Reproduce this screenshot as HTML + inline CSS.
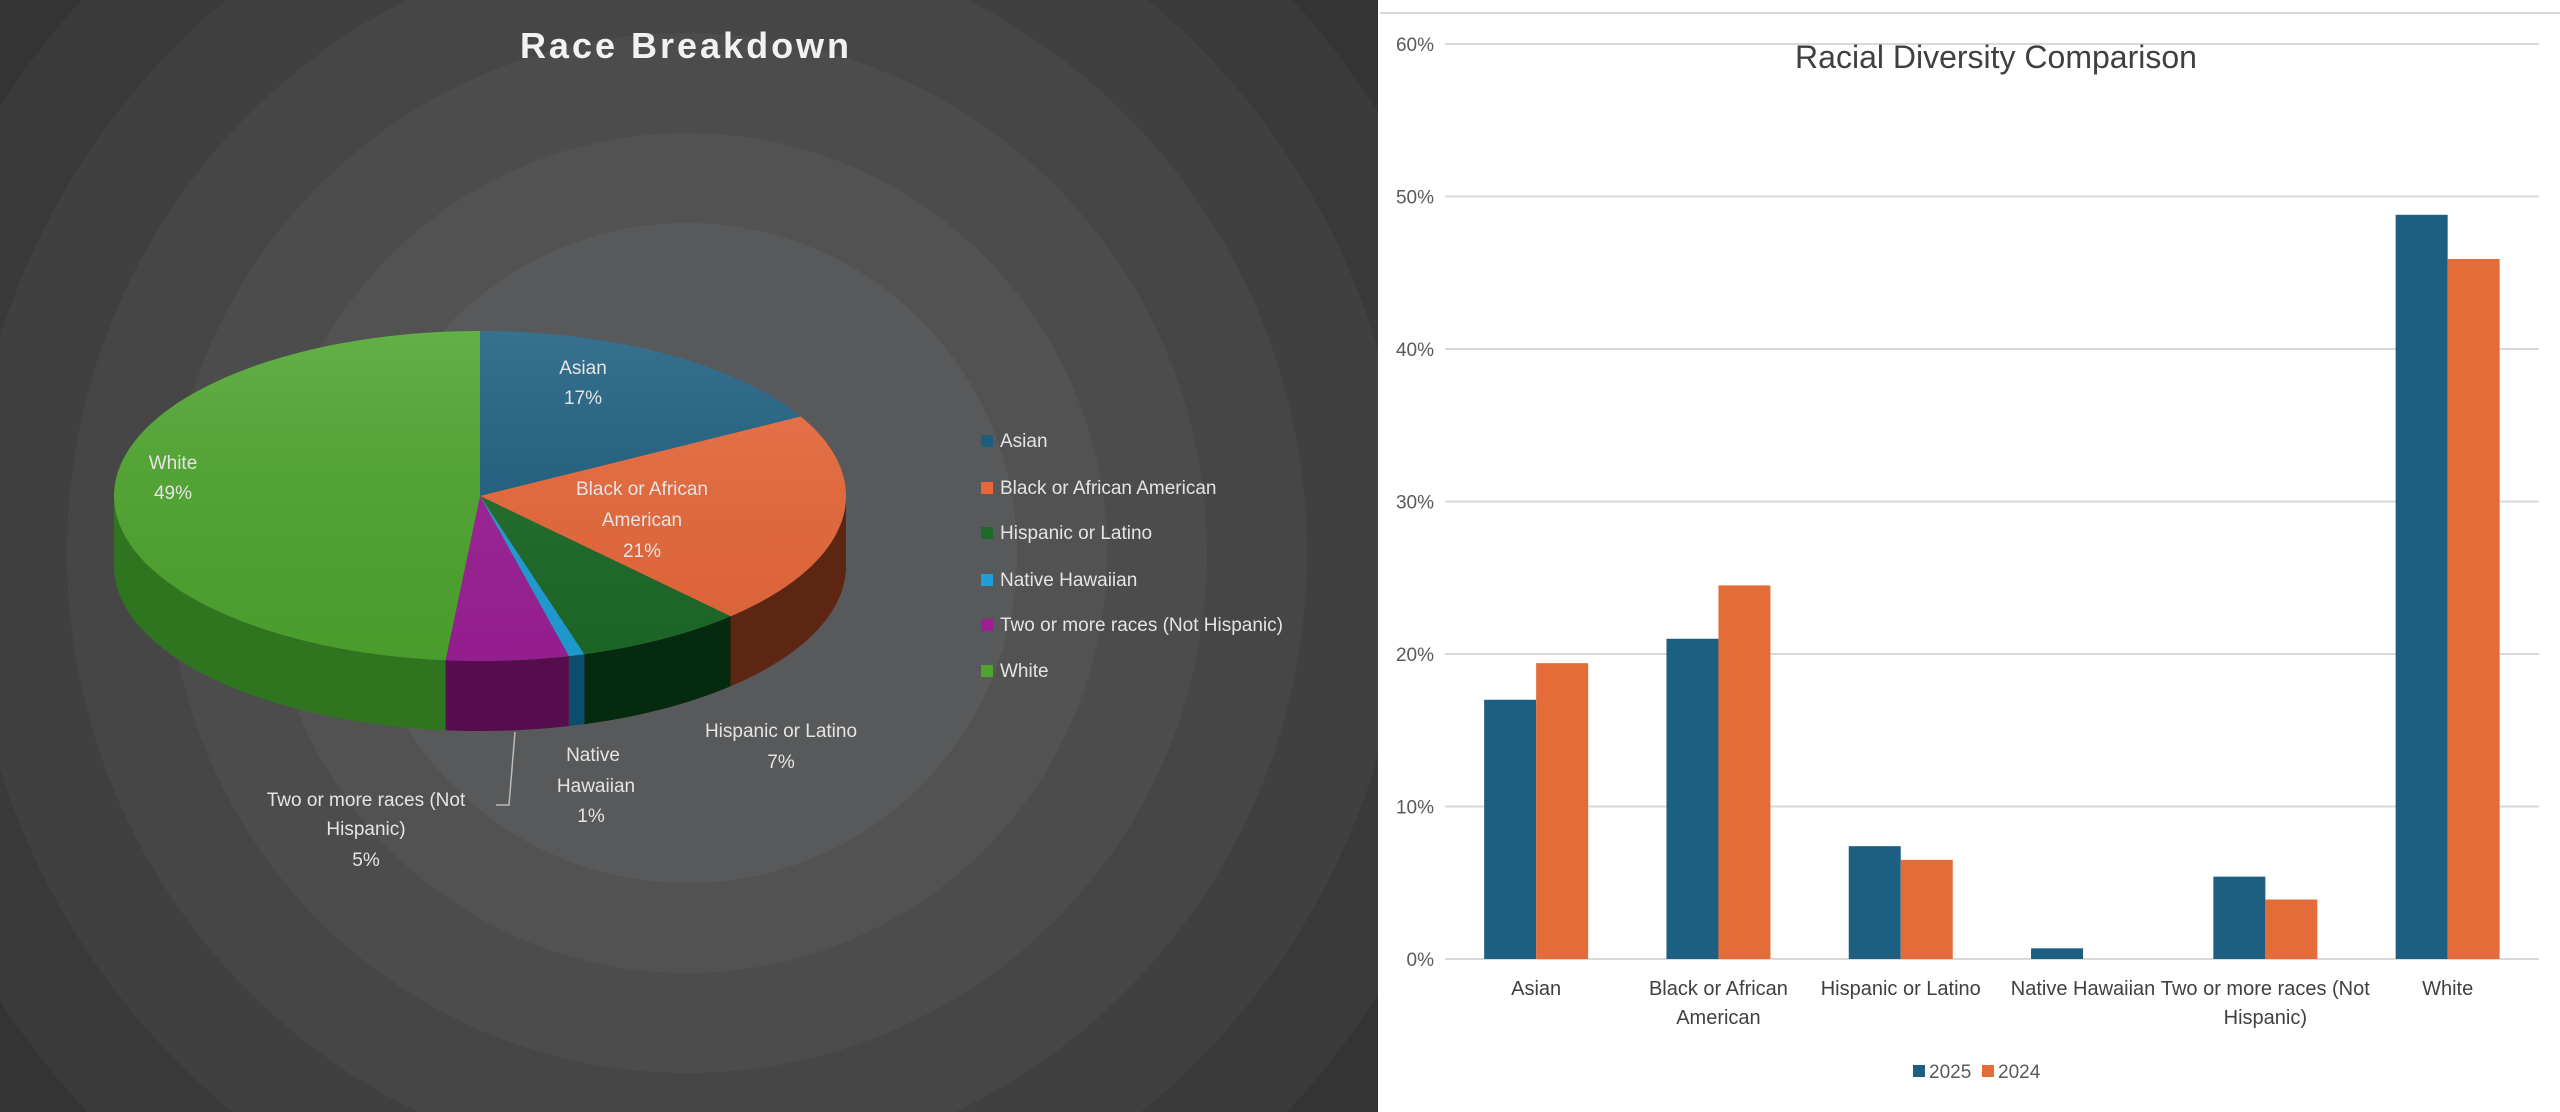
<!DOCTYPE html>
<html><head><meta charset="utf-8"><style>
html,body{margin:0;padding:0;width:2560px;height:1112px;overflow:hidden;background:#fff;font-family:"Liberation Sans",sans-serif}
#left{position:absolute;left:0;top:0;width:1378px;height:1112px;background:radial-gradient(circle at 687px 553px,#57595a 0,#57595a 330px,#525252 330px,#525252 420px,#4c4c4c 420px,#4c4c4c 520px,#464646 520px,#464646 620px,#404040 620px,#404040 720px,#3a3a3a 720px,#3a3a3a 820px,#343434 820px,#343434 920px,#2e2e2e 920px,#2e2e2e 1020px,#292929 1020px)}
#right{position:absolute;left:1378px;top:0;width:1182px;height:1112px;background:#fff}
svg{position:absolute;left:0;top:0}
</style></head><body>
<div id="left"></div><div id="right"></div>
<svg id="s" width="2560" height="1112" xmlns="http://www.w3.org/2000/svg"></svg>
<script>
var s=document.getElementById('s'),h='';
var cx=480,cy=496,rx=366,ry=165,d=70;
var sl=[[17.0,'#1d5e80','#0f3a52'],[21.0,'#e8683a','#5c2612'],[7.4,'#1d6a28','#062a0e'],[0.7,'#1f9fd8','#0c4d6e'],[5.4,'#9c1f96','#560d4e'],[48.5,'#4ea52e','#2f7520']];
function P(t,dy){var r=t*Math.PI/180;return [(cx+rx*Math.sin(r)).toFixed(1),(cy-ry*Math.cos(r)+(dy||0)).toFixed(1)];}
var a=0,angs=[];sl.forEach(function(q){angs.push([a,a+q[0]*3.6]);a+=q[0]*3.6;});
h+='<defs><linearGradient id="sh" x1="0" y1="0" x2="0" y2="1"><stop offset="0" stop-color="#fff" stop-opacity="0.12"/><stop offset="1" stop-color="#000" stop-opacity="0.05"/></linearGradient></defs>';
sl.forEach(function(q,i){var t1=Math.max(angs[i][0],90),t2=Math.min(angs[i][1],270);if(t2<=t1)return;
var p='M'+P(t1)+' ';for(var t=t1;t<=t2;t+=1)p+='L'+P(t)+' ';p+='L'+P(t2)+' L'+P(t2,d)+' ';for(var t=t2;t>=t1;t-=1)p+='L'+P(t,d)+' ';p+='L'+P(t1,d)+'Z';
h+='<path d="'+p+'" fill="'+q[2]+'"/>';});
sl.forEach(function(q,i){var t1=angs[i][0],t2=angs[i][1];var p='M'+cx+','+cy+' L'+P(t1)+' ';for(var t=t1;t<=t2;t+=1)p+='L'+P(t)+' ';p+='L'+P(t2)+'Z';
h+='<path d="'+p+'" fill="'+q[1]+'"/>';});
h+='<ellipse cx="'+cx+'" cy="'+cy+'" rx="'+rx+'" ry="'+ry+'" fill="url(#sh)"/>';
h+='<text x="686" y="58" text-anchor="middle" font-size="36" font-weight="bold" letter-spacing="3" fill="#f2f2f2">Race Breakdown</text>';
var lb=[['Asian',583,374],['17%',583,404],['Black or African',642,495],['American',642,526],['21%',642,557],['White',173,469],['49%',173,499],['Hispanic or Latino',781,737],['7%',781,768],['Native',593,761],['Hawaiian',596,792],['1%',591,822],['Two or more races (Not',366,806],['Hispanic)',366,835],['5%',366,866]];
lb.forEach(function(l){h+='<text x="'+l[1]+'" y="'+l[2]+'" text-anchor="middle" font-size="19" fill="#e4e4e4">'+l[0]+'</text>';});
h+='<polyline points="515,732 509,805 496,805" fill="none" stroke="#bbb" stroke-width="1.5"/>';
var lg=[['Asian','#1d5e80'],['Black or African American','#e8683a'],['Hispanic or Latino','#1d6a28'],['Native Hawaiian','#1f9fd8'],['Two or more races (Not Hispanic)','#9c1f96'],['White','#4ea52e']];
var ly=[440,487,532,579,624,670];
lg.forEach(function(l,i){h+='<rect x="981" y="'+(ly[i]-5)+'" width="12" height="12" fill="'+l[1]+'"/><text x="1000" y="'+(ly[i]+7)+'" font-size="19" fill="#e4e4e4">'+l[0]+'</text>';});
h+='<line x1="1380" y1="13" x2="2560" y2="13" stroke="#d8d8d8" stroke-width="2"/>';
var y0=959,u=15.25,x0=1445,gw=182.3;
for(var k=0;k<=6;k++){var y=y0-k*10*u;h+='<line x1="1445" y1="'+y+'" x2="2539" y2="'+y+'" stroke="#d9d9d9" stroke-width="2"/><text x="1434" y="'+(y+7)+'" text-anchor="end" font-size="19" fill="#595959">'+(k*10)+'%</text>';}
h+='<text x="1996" y="68" text-anchor="middle" font-size="32" fill="#404040">Racial Diversity Comparison</text>';
var v=[[17,19.4],[21,24.5],[7.4,6.5],[0.7,0],[5.4,3.9],[48.8,45.9]];
var cl=[['Asian'],['Black or African','American'],['Hispanic or Latino'],['Native Hawaiian'],['Two or more races (Not','Hispanic)'],['White']];
v.forEach(function(b,i){var c=x0+gw*i+gw/2;h+='<rect x="'+(c-52)+'" y="'+(y0-b[0]*u)+'" width="52" height="'+(b[0]*u)+'" fill="#1c5f80"/>';
if(b[1]>0)h+='<rect x="'+c+'" y="'+(y0-b[1]*u)+'" width="52" height="'+(b[1]*u)+'" fill="#e46c38"/>';
cl[i].forEach(function(t,j){h+='<text x="'+c+'" y="'+(995+j*29)+'" text-anchor="middle" font-size="20" fill="#404040">'+t+'</text>';});});
h+='<rect x="1913" y="1065" width="12" height="12" fill="#1c5f80"/><text x="1929" y="1078" font-size="19" fill="#595959">2025</text>';
h+='<rect x="1982" y="1065" width="12" height="12" fill="#e46c38"/><text x="1998" y="1078" font-size="19" fill="#595959">2024</text>';
s.innerHTML=h;
</script>
</body></html>
